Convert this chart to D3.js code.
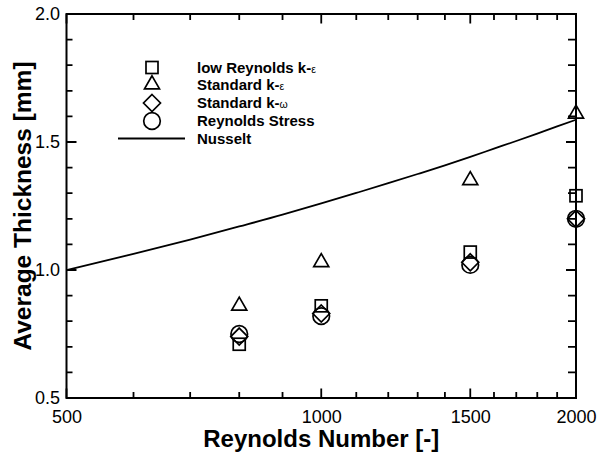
<!DOCTYPE html>
<html>
<head>
<meta charset="utf-8">
<script src="https://cdn.jsdelivr.net/npm/d3@7"></script>
<style>
  html, body { margin: 0; padding: 0; background: #fff; }
  svg { display: block; font-family: Arial, "Liberation Sans", Helvetica, sans-serif; }
</style>
</head>
<body>
<svg id="chart" width="599" height="456"></svg>
<script>
// Reynolds numbers of the simulated cases
const reynolds = [800, 1000, 1500, 2000];

// Average film thickness [mm] per turbulence model
const lowReynoldsKE = [0.71, 0.86, 1.07, 1.29];
const standardKE = [0.86, 1.03, 1.35, 1.61];
const standardKW = [0.74, 0.83, 1.03, 1.20];
const reynoldsStress = [0.75, 0.82, 1.02, 1.20];

// Nusselt film thickness curve
const nusseltRe = [500, 600, 700, 800, 900, 1000, 1100, 1200, 1300, 1400, 1500, 1600, 1700, 1800, 1900, 2000];
const nusseltThickness = [1.000, 1.063, 1.119, 1.170, 1.216, 1.260, 1.301, 1.339, 1.375, 1.409, 1.442, 1.474, 1.504, 1.533, 1.561, 1.587];

// Axis ticks
const xMajorTicks = [500, 1000, 1500, 2000];
const xMinorTicks = [600, 700, 800, 900, 1100, 1200, 1300, 1400, 1600, 1700, 1800, 1900];
const yMajorTicks = [0.5, 1.0, 1.5, 2.0];
const yMinorTicks = [0.6, 0.7, 0.8, 0.9, 1.1, 1.2, 1.3, 1.4, 1.6, 1.7, 1.8, 1.9];

const legendLabels = [
  ["low Reynolds k-", "\u03b5"],
  ["Standard k-", "\u03b5"],
  ["Standard k-", "\u03c9"],
  ["Reynolds Stress", ""],
  ["Nusselt", ""]
];

const svg = d3.select("#chart");
const plotLeft = 66.5, plotRight = 576, plotTop = 14, plotBottom = 398;

const x = d3.scaleLog().domain([500, 2000]).range([plotLeft, plotRight]);
const y = d3.scaleLinear().domain([0.5, 2.0]).range([plotBottom, plotTop]);

// Marker shapes, drawn as hollow outlines
const symbols = {
  square: (s) => s.append("rect").attr("x", -6).attr("y", -6).attr("width", 12).attr("height", 12),
  triangle: (s) => s.append("path").attr("d", "M0,-8.7L7.5,4.3L-7.5,4.3Z"),
  diamond: (s) => s.append("path").attr("d", "M0,-8.5L8.5,0L0,8.5L-8.5,0Z"),
  circle: (s) => s.append("circle").attr("r", 8.3)
};

function styleLabels(g) {
  g.select(".domain").remove();
  g.selectAll("line").remove();
  g.selectAll("text").attr("font-size", 18).attr("fill", "#000");
}

// Tick labels
svg.append("g").attr("transform", `translate(0,${plotBottom})`)
  .call(d3.axisBottom(x).tickValues(xMajorTicks).tickSize(0).tickPadding(12).tickFormat(d3.format("d")))
  .call(styleLabels);
svg.append("g").attr("transform", `translate(${plotLeft},0)`)
  .call(d3.axisLeft(y).tickValues(yMajorTicks).tickSize(0).tickPadding(6.5).tickFormat(d3.format(".1f")))
  .call(styleLabels);

// Plot frame
svg.append("rect")
  .attr("x", plotLeft).attr("y", plotTop)
  .attr("width", plotRight - plotLeft).attr("height", plotBottom - plotTop)
  .attr("fill", "none").attr("stroke", "#000").attr("stroke-width", 2);

// Inward tick marks on all four sides
const tickPath = d3.path();
function xTicks(values, len) {
  values.forEach(v => {
    const px = x(v);
    tickPath.moveTo(px, plotBottom); tickPath.lineTo(px, plotBottom - len);
    tickPath.moveTo(px, plotTop); tickPath.lineTo(px, plotTop + len);
  });
}
function yTicks(values, lenLeft, lenRight) {
  values.forEach(v => {
    const py = y(v);
    tickPath.moveTo(plotLeft, py); tickPath.lineTo(plotLeft + lenLeft, py);
    tickPath.moveTo(plotRight, py); tickPath.lineTo(plotRight - lenRight, py);
  });
}
xTicks(xMinorTicks, 6);
xTicks(xMajorTicks, 9.5);
yTicks(yMinorTicks, 6, 8);
yTicks(yMajorTicks, 10, 10);
svg.append("path")
  .attr("d", tickPath.toString())
  .attr("fill", "none").attr("stroke", "#000").attr("stroke-width", 1.8);

// Nusselt curve
const nusseltLine = d3.line().x((d, i) => x(nusseltRe[i])).y(d => y(d)).curve(d3.curveMonotoneX);
svg.append("path")
  .datum(nusseltThickness)
  .attr("d", nusseltLine)
  .attr("fill", "none").attr("stroke", "#000").attr("stroke-width", 1.8);

// Model results
const series = [
  { values: lowReynoldsKE, shape: "square" },
  { values: standardKE, shape: "triangle" },
  { values: standardKW, shape: "diamond" },
  { values: reynoldsStress, shape: "circle" }
];

const markers = svg.append("g")
  .attr("fill", "none").attr("stroke", "#000").attr("stroke-width", 1.7);
series.forEach(s => {
  s.values.forEach((v, i) => {
    const g = markers.append("g").attr("transform", `translate(${x(reynolds[i])},${y(v)})`);
    symbols[s.shape](g);
  });
});

// Legend
const legendRows = [67.5, 84.5, 103, 121, 138.5];
const legend = svg.append("g");
series.forEach((s, i) => {
  const g = legend.append("g")
    .attr("transform", `translate(152,${legendRows[i]})`)
    .attr("fill", "none").attr("stroke", "#000").attr("stroke-width", 1.7);
  symbols[s.shape](g);
});
legend.append("line")
  .attr("x1", 118).attr("x2", 185)
  .attr("y1", legendRows[4]).attr("y2", legendRows[4])
  .attr("stroke", "#000").attr("stroke-width", 1.8);

legendLabels.forEach((lab, i) => {
  const t = legend.append("text")
    .attr("x", 197).attr("y", legendRows[i] + 5.4)
    .attr("font-size", 15).attr("font-weight", "bold").attr("fill", "#000");
  t.append("tspan").text(lab[0]);
  if (lab[1]) {
    t.append("tspan").attr("font-weight", "normal").attr("font-size", 10.5).text(lab[1]);
  }
});

// Axis titles
svg.append("text")
  .attr("x", (plotLeft + plotRight) / 2).attr("y", 447)
  .attr("text-anchor", "middle")
  .attr("font-size", 24).attr("font-weight", "bold")
  .text("Reynolds Number [-]");

svg.append("text")
  .attr("transform", `translate(31,${(plotTop + plotBottom) / 2}) rotate(-90)`)
  .attr("text-anchor", "middle")
  .attr("font-size", 24.5).attr("font-weight", "bold")
  .text("Average Thickness [mm]");
</script>
</body>
</html>
